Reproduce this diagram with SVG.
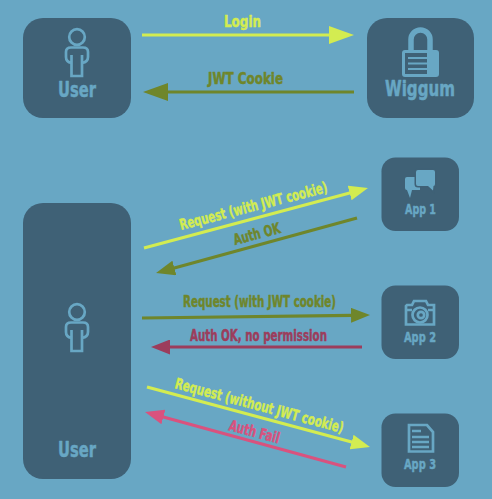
<svg xmlns="http://www.w3.org/2000/svg" width="492" height="499" viewBox="0 0 492 499">
<style>
.bg{fill:#68a7c4}
.n{fill:#3f6176}
.ic{fill:none;stroke:#68a7c4;stroke-width:2.700}
.if{fill:#68a7c4}
text{font-family:"DejaVu Sans Condensed","DejaVu Sans","Liberation Sans",sans-serif;font-weight:700;font-stretch:condensed;stroke-width:.45px;stroke-linejoin:round}
.nl{fill:#68a7c4;stroke:#68a7c4;font-size:21px}
.al{fill:#68a7c4;stroke:#68a7c4;font-size:14.500px}
.t{font-size:15px}
.y{fill:#d3ec51;stroke:#d3ec51}.o{fill:#6f862b;stroke:#6f862b}.m{fill:#9c3d5c;stroke:#9c3d5c}.p{fill:#d9527e;stroke:#d9527e}
line{stroke-width:3.200}
</style>
<defs>
<marker id="yb" markerUnits="userSpaceOnUse" markerWidth="25" markerHeight="18" refX="1" refY="9" orient="auto"><path d="M0 0L25 9L0 18Z" fill="#d3ec51"/></marker>
<marker id="ob" markerUnits="userSpaceOnUse" markerWidth="25" markerHeight="18" refX="1" refY="9" orient="auto"><path d="M0 0L25 9L0 18Z" fill="#6f862b"/></marker>
<marker id="ys" markerUnits="userSpaceOnUse" markerWidth="19" markerHeight="15" refX="1" refY="7.500" orient="auto"><path d="M0 0L19 7.500L0 15Z" fill="#d3ec51"/></marker>
<marker id="os" markerUnits="userSpaceOnUse" markerWidth="19" markerHeight="15" refX="1" refY="7.500" orient="auto"><path d="M0 0L19 7.500L0 15Z" fill="#6f862b"/></marker>
<marker id="ms" markerUnits="userSpaceOnUse" markerWidth="19" markerHeight="15" refX="1" refY="7.500" orient="auto"><path d="M0 0L19 7.500L0 15Z" fill="#9c3d5c"/></marker>
<marker id="ps" markerUnits="userSpaceOnUse" markerWidth="19" markerHeight="15" refX="1" refY="7.500" orient="auto"><path d="M0 0L19 7.500L0 15Z" fill="#d9527e"/></marker>
<g id="person" class="ic"><circle cx="77" cy="37" r="7.800"/><path d="M71.500 55V76H82V55M71.500 63Q66 62 66 57V52Q66 47.500 71 47.500H83Q88 47.500 88 52V57Q88 62 82 63"/></g>
</defs>
<rect class="bg" width="492" height="499"/>
<g id="user-top"><rect class="n" x="23" y="18" width="108" height="100" rx="20"/><use href="#person"/><text class="nl" x="77" y="97" text-anchor="middle" textLength="38" lengthAdjust="spacingAndGlyphs">User</text></g>
<g id="wiggum"><rect class="n" x="367" y="18" width="107" height="100" rx="20"/>
<path d="M411 51V39.500A9.500 9.500 0 0 1 430 39.500V51" fill="none" stroke="#68a7c4" stroke-width="5.500"/>
<rect class="if" x="402" y="50" width="37" height="27" rx="3"/>
<rect class="n" x="405" y="53" width="22" height="21"/>
<path d="M408 58H427M408 63.500H427M408 69H427" stroke="#68a7c4" stroke-width="2.200" fill="none"/>
<text class="nl" x="420" y="96" text-anchor="middle" textLength="70" lengthAdjust="spacingAndGlyphs">Wiggum</text></g>
<g id="user-bottom"><rect class="n" x="23" y="203" width="108" height="276" rx="20"/><use href="#person" transform="translate(0 275)"/><text class="nl" x="77" y="457" text-anchor="middle" textLength="38" lengthAdjust="spacingAndGlyphs">User</text></g>
<g id="app1"><rect class="n" x="381.500" y="157.500" width="77.500" height="73.500" rx="14"/>
<path class="if" d="M407 177H420V190H412L410 198L407 190Q405 190 405 188V179Q405 177 407 177Z"/>
<path class="if" stroke="#3f6176" stroke-width="3" style="paint-order:stroke" d="M418 170H433Q435 170 435 172V184Q435 186 433.500 186L433 190.500L428 186H418Q416 186 416 184V172Q416 170 418 170Z"/>
<text class="al" x="420.500" y="214" text-anchor="middle" textLength="31" lengthAdjust="spacingAndGlyphs">App 1</text></g>
<g id="app2"><rect class="n" x="381.500" y="285.500" width="77.500" height="73.500" rx="14"/>
<path class="ic" d="M407 305H412L414 301H426L428 305H434V324.500H406V306Z"/>
<circle class="ic" cx="420" cy="315" r="7.500"/><circle class="ic" cx="421" cy="315" r="3.200"/>
<path class="ic" d="M407 310H412M428 310H434"/>
<text class="al" x="420" y="342" text-anchor="middle" textLength="32" lengthAdjust="spacingAndGlyphs">App 2</text></g>
<g id="app3"><rect class="n" x="381.500" y="413.500" width="77.500" height="73.500" rx="14"/>
<path class="ic" stroke-width="2" d="M409 425H427L433 432V451.500H409Z"/>
<path class="ic" stroke-width="1.600" d="M412 431H421M412 437H429M412 442H429M412 447H429"/>
<text class="al" x="420" y="469" text-anchor="middle" textLength="32" lengthAdjust="spacingAndGlyphs">App 3</text></g>
<g id="connectors">
<line x1="142" y1="35" x2="330" y2="35" stroke="#d3ec51" marker-end="url(#yb)"/>
<line x1="354" y1="92" x2="167" y2="92" stroke="#6f862b" marker-end="url(#ob)"/>
<line x1="144" y1="248" x2="350.600" y2="192.700" stroke="#d3ec51" marker-end="url(#ys)"/>
<line x1="357" y1="218" x2="173.400" y2="268.200" stroke="#6f862b" marker-end="url(#os)"/>
<line x1="142" y1="318" x2="352" y2="315.300" stroke="#6f862b" marker-end="url(#os)"/>
<line x1="362" y1="347" x2="169" y2="347" stroke="#9c3d5c" marker-end="url(#ms)"/>
<line x1="147" y1="387" x2="352.600" y2="442.300" stroke="#d3ec51" marker-end="url(#ys)"/>
<line x1="346" y1="467" x2="162.400" y2="416.700" stroke="#d9527e" marker-end="url(#ps)"/>
</g>
<g id="labels">
<text class="t y" x="224" y="27" textLength="37" lengthAdjust="spacingAndGlyphs">Login</text>
<text class="t o" x="208" y="84" textLength="75" lengthAdjust="spacingAndGlyphs">JWT Cookie</text>
<text class="t y" transform="translate(181 230) rotate(-14.500)" textLength="152" lengthAdjust="spacingAndGlyphs">Request (with JWT cookie)</text>
<text class="t o" transform="translate(235 245) rotate(-15)" textLength="48" lengthAdjust="spacingAndGlyphs">Auth OK</text>
<text class="t o" x="183" y="307" textLength="153" lengthAdjust="spacingAndGlyphs">Request (with JWT cookie)</text>
<text class="t m" x="190" y="341" textLength="137" lengthAdjust="spacingAndGlyphs">Auth OK, no permission</text>
<text class="t y" transform="translate(174 388) rotate(15)" textLength="174" lengthAdjust="spacingAndGlyphs">Request (without JWT cookie)</text>
<text class="t p" transform="translate(228 430) rotate(15)" textLength="52" lengthAdjust="spacingAndGlyphs">Auth Fail</text>
</g>
</svg>
